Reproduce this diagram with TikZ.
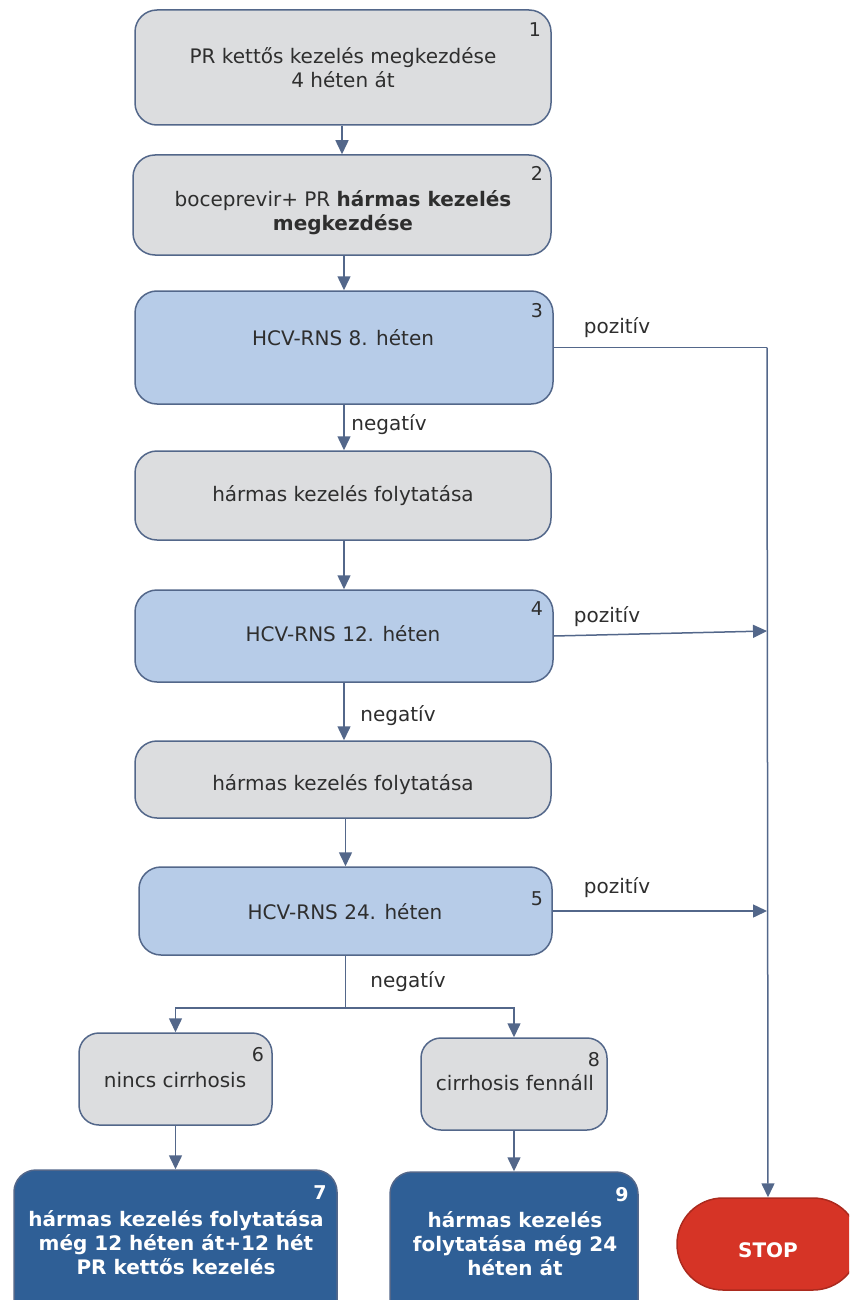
\documentclass[tikz,border=0pt]{standalone}
\usepackage{fontspec}
\setmainfont{DejaVu Sans}
\usetikzlibrary{arrows.meta}
\definecolor{boxgrey}{HTML}{DCDDDF}
\definecolor{boxblue}{HTML}{B7CCE8}
\definecolor{boxdark}{HTML}{2F5F96}
\definecolor{stopred}{HTML}{D63426}
\definecolor{edge}{HTML}{53678A}
\definecolor{ink}{HTML}{2E2E2E}
\begin{document}
\begin{tikzpicture}[x=1pt,y=-1pt,
  every node/.style={font=\fontsize{20}{24}\selectfont, text=ink, inner sep=0pt},
  box/.style={draw=edge, line width=1.5pt, rounded corners=22pt},
  greybox/.style={box, fill=boxgrey},
  bluebox/.style={box, fill=boxblue},
  darkbox/.style={box, fill=boxdark},
  txt/.style={align=center},
  darktxt/.style={align=center, text=white, font=\fontsize{20}{24}\selectfont\bfseries},
  num/.style={font=\fontsize{19}{22}\selectfont},
  darknum/.style={text=white, font=\fontsize{19}{22}\selectfont\bfseries},
  tag/.style={},
  flow/.style={draw=edge, line width=1.5pt, -{Triangle[length=14pt,width=13pt]}},
  link/.style={draw=edge, line width=1.5pt}
]
\useasboundingbox (0,0) rectangle (849,1300);
\clip (0,0) rectangle (849,1300);

% main column of steps
\node[greybox, minimum width=416pt, minimum height=115pt] (b1) at (343,67.5) {};
\node[txt] (t1) at (343,68) {PR kettős kezelés megkezdése\\4 héten át};
\node[num] (n1) at (535,30) {1};

\node[greybox, minimum width=418pt, minimum height=100pt] (b2) at (342,205) {};
\node[txt] (t2) at (343,213) {boceprevir+ PR \textbf{hármas kezelés}\\\textbf{megkezdése}};
\node[num] (n2) at (537,173) {2};

\node[bluebox, minimum width=418pt, minimum height=113pt] (b3) at (344,347.5) {};
\node[txt] (t3) at (343,338) {HCV-RNS 8. héten};
\node[num] (n3) at (537,311) {3};

\node[greybox, minimum width=416pt, minimum height=89pt] (bA) at (343,495.5) {};
\node[txt] (tA) at (343,496) {hármas kezelés folytatása};

\node[bluebox, minimum width=418pt, minimum height=92pt] (b4) at (344,636) {};
\node[txt] (t4) at (343,634) {HCV-RNS 12. héten};
\node[num] (n4) at (537,609) {4};

\node[greybox, minimum width=416pt, minimum height=77pt] (bB) at (343,779.5) {};
\node[txt] (tB) at (343,785) {hármas kezelés folytatása};

\node[bluebox, minimum width=413pt, minimum height=88pt] (b5) at (345.5,911) {};
\node[txt] (t5) at (345,912) {HCV-RNS 24. héten};
\node[num] (n5) at (537,899) {5};

% cirrhosis branches
\node[greybox, rounded corners=20pt, minimum width=193pt, minimum height=92pt] (b6) at (175.5,1079) {};
\node[txt] (t6) at (175,1080) {nincs cirrhosis};
\node[num] (n6) at (258,1055) {6};

\node[greybox, rounded corners=20pt, minimum width=186pt, minimum height=92pt] (b8) at (514,1084) {};
\node[txt] (t8) at (515,1083) {cirrhosis fennáll};
\node[num] (n8) at (594,1060) {8};

% final outcomes
\node[darkbox, minimum width=323pt, minimum height=160pt] (b7) at (175.5,1250) {};
\node[darktxt] (t7) at (176,1243) {hármas kezelés folytatása\\még 12 héten át+12 hét\\PR kettős kezelés};
\node[darknum] (n7) at (320,1193) {7};

\node[darkbox, minimum width=248pt, minimum height=160pt] (b9) at (514,1252) {};
\node[darktxt] (t9) at (515,1244) {hármas kezelés\\folytatása még 24\\héten át};
\node[darknum] (n9) at (622,1195) {9};

\node[box, draw=stopred!80!black, fill=stopred, rounded corners=46pt, minimum width=182pt, minimum height=92pt] (stop) at (768,1244) {};
\node[darktxt] (tstop) at (768,1250) {STOP};

% connectors down the main column
\draw[flow] (b1.south -| b2.north) -- (b2.north);
\draw[flow] (b2.south -| b3.north) -- (b3.north);
\draw[flow] (b3.south) -- (b3.south |- bA.north);
\draw[flow] (bA.south -| b4.north) -- (b4.north);
\draw[flow] (b4.south) -- (b4.south |- bB.north);
\draw[flow] (bB.south -| b5.north) -- (b5.north);

\coordinate (split) at (345.5,1008);
\draw[link] (b5.south) -- (split);
\draw[flow] (split) -| (b6.north);
\draw[flow] (split) -| (b8.north);
\draw[flow] (b6.south) -- (b7.north);
\draw[flow] (b8.south) -- (b9.north);

% positive results lead to STOP
\coordinate (top) at (767,347.5);
\coordinate (j4) at (767,631);
\coordinate (j5) at (767,911);
\draw[link] (b3.east) -- (top);
\draw[flow] (top) -- (stop.north);
\draw[flow] (b4.east) -- (j4);
\draw[flow] (b5.east) -- (j5);

% result labels
\node[tag] (p3) at (617,328) {pozitív};
\node[tag] (p4) at (607,617) {pozitív};
\node[tag] (p5) at (617,888) {pozitív};
\node[tag] (m3) at (389,425) {negatív};
\node[tag] (m4) at (398,716) {negatív};
\node[tag] (m5) at (408,982) {negatív};
\end{tikzpicture}
\end{document}
